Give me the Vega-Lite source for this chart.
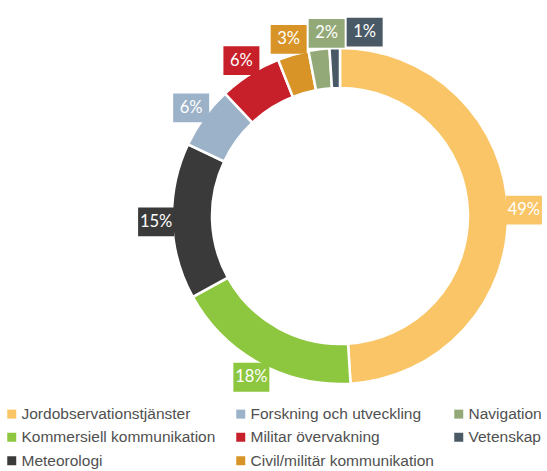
{
  "$schema": "https://vega.github.io/schema/vega-lite/v6.json",
  "width": 400,
  "height": 400,
  "autosize": {"type": "none"},
  "padding": {"left": 140, "top": 16, "right": 7, "bottom": 55},
  "background": "white",
  "config": {"view": {"stroke": null}},
  "data": {
    "values": [
      {"kategori": "Jordobservationstjänster", "andel": 49, "ordning": 1},
      {"kategori": "Kommersiell kommunikation", "andel": 18, "ordning": 2},
      {"kategori": "Meteorologi", "andel": 15, "ordning": 3},
      {"kategori": "Forskning och utveckling", "andel": 6, "ordning": 4},
      {"kategori": "Militar övervakning", "andel": 6, "ordning": 5},
      {"kategori": "Civil/militär kommunikation", "andel": 3, "ordning": 6},
      {"kategori": "Navigation", "andel": 2, "ordning": 7},
      {"kategori": "Vetenskap", "andel": 1, "ordning": 8}
    ]
  },
  "layer": [
    {
      "mark": {"type": "arc", "innerRadius": 128, "outerRadius": 168, "stroke": "white", "strokeWidth": 2.5},
      "encoding": {
        "theta": {"field": "andel", "type": "quantitative", "stack": true},
        "order": {"field": "ordning", "type": "quantitative"},
        "color": {
          "field": "kategori",
          "type": "nominal",
          "scale": {
            "domain": ["Jordobservationstjänster", "Forskning och utveckling", "Navigation", "Kommersiell kommunikation", "Militar övervakning", "Vetenskap", "Meteorologi", "Civil/militär kommunikation"],
            "range": ["#F9C566", "#9CB2C8", "#93AA78", "#8DC63F", "#C8202A", "#4A5966", "#3A3A3A", "#D99428"]
          },
          "legend": {
            "orient": "none",
            "legendX": -136,
            "legendY": 390,
            "direction": "horizontal",
            "columns": 3,
            "title": null,
            "symbolType": "square",
            "symbolSize": 81,
            "symbolStrokeWidth": 0,
            "symbolOpacity": 1,
            "labelFont": "Liberation Sans",
            "labelFontSize": 15.5,
            "labelColor": "#505050",
            "labelOffset": 2,
            "rowPadding": 6.5,
            "columnPadding": 17,
            "labelLimit": 300,
            "padding": 0
          }
        }
      }
    },
    {
      "transform": [
        {"joinaggregate": [{"op": "sum", "field": "andel", "as": "total"}]},
        {"window": [{"op": "sum", "field": "andel", "as": "kum"}], "sort": [{"field": "ordning"}]},
        {"calculate": "(datum.kum - datum.andel / 2) / datum.total * 2 * PI", "as": "mid"},
        {"calculate": "184 * sin(datum.mid)", "as": "lx0"},
        {"calculate": "184 * cos(datum.mid)", "as": "ly"},
        {"calculate": "datum.ly > 60 ? 1 : 0", "as": "topp"},
        {"window": [{"op": "row_number", "as": "rk"}], "groupby": ["topp"], "sort": [{"field": "ordning"}]},
        {"calculate": "datum.lx0 - datum.rk * 38", "as": "z"},
        {"window": [{"op": "max", "field": "z", "as": "zmax"}], "groupby": ["topp"], "sort": [{"field": "ordning"}], "frame": [null, 0]},
        {"calculate": "datum.topp == 1 ? datum.zmax + datum.rk * 38 : datum.lx0", "as": "lx"},
        {"calculate": "datum.andel + '%'", "as": "etikett"}
      ],
      "encoding": {
        "x": {"field": "lx", "type": "quantitative", "scale": {"domain": [-200, 200], "nice": false, "zero": false}, "axis": null},
        "y": {"field": "ly", "type": "quantitative", "scale": {"domain": [-200, 200], "nice": false, "zero": false}, "axis": null}
      },
      "layer": [
        {
          "mark": {"type": "point", "shape": "M-1,-0.8H1V0.8H-1Z", "size": 1296, "filled": true, "opacity": 1, "strokeWidth": 0},
          "encoding": {"color": {"field": "kategori", "type": "nominal", "legend": null}}
        },
        {
          "mark": {"type": "text", "color": "white", "font": "Lato", "fontSize": 16.5, "baseline": "middle", "align": "center"},
          "encoding": {"text": {"field": "etikett", "type": "nominal"}}
        }
      ]
    }
  ]
}
